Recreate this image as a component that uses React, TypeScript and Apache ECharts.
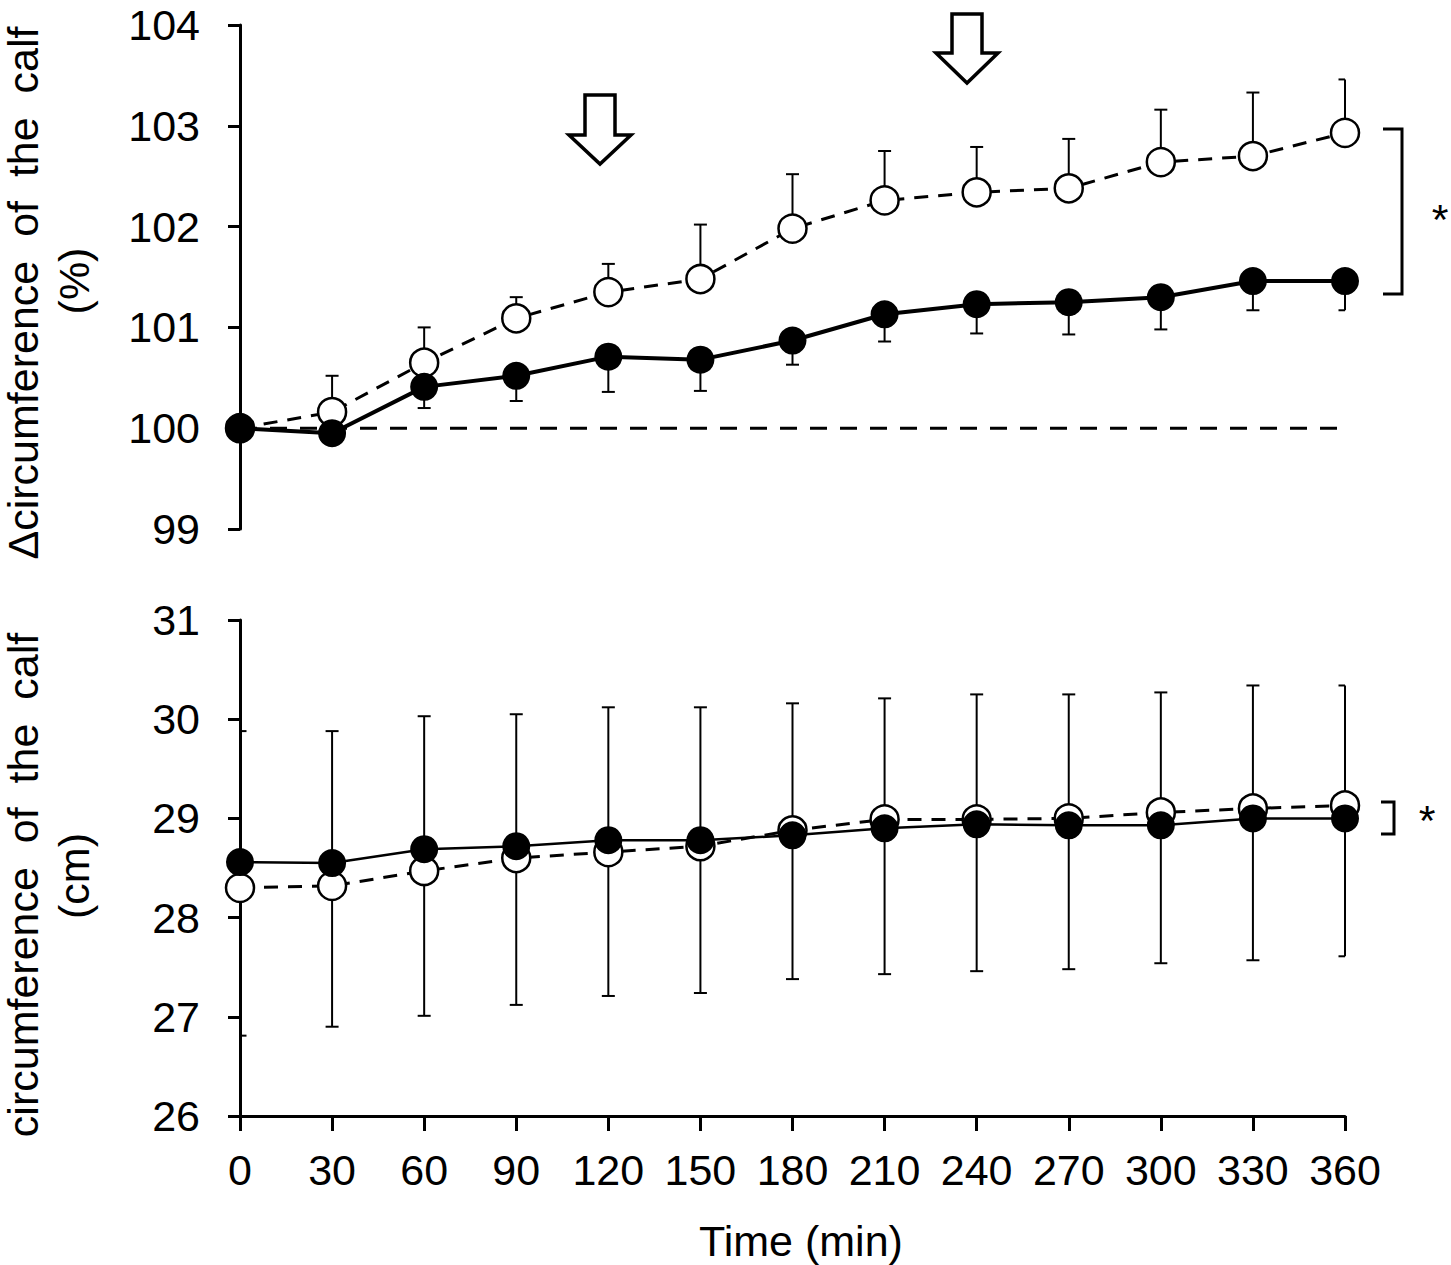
import React, { useEffect, useRef } from "react";
import * as echarts from "echarts";

const timePoints = [0, 30, 60, 90, 120, 150, 180, 210, 240, 270, 300, 330, 360];
const xTickLabels = ["0", "30", "60", "90", "120", "150", "180", "210", "240", "270", "300", "330", "360"];

// Top panel: Δcircumference of the calf (%)
const topOpen = [100, 100.16, 100.65, 101.09, 101.35, 101.48, 101.98, 102.26, 102.34, 102.38, 102.64, 102.7, 102.93];
const topOpenUpper = [100, 100.52, 101.0, 101.3, 101.63, 102.02, 102.52, 102.75, 102.79, 102.87, 103.16, 103.33, 103.46];
const topFilled = [100, 99.95, 100.41, 100.52, 100.71, 100.68, 100.87, 101.13, 101.23, 101.25, 101.3, 101.46, 101.46];
const topFilledLower = [100, 99.95, 100.2, 100.27, 100.36, 100.37, 100.63, 100.86, 100.94, 100.93, 100.98, 101.17, 101.17];
const baselineTop = [[0, 100], [367, 100]];

// Bottom panel: circumference of the calf (cm)
const bottomFilled = [28.56, 28.55, 28.69, 28.72, 28.78, 28.78, 28.83, 28.9, 28.94, 28.93, 28.93, 29.0, 29.0];
const bottomOpen = [28.3, 28.32, 28.47, 28.6, 28.66, 28.72, 28.88, 28.99, 28.99, 29.0, 29.06, 29.1, 29.13];
const bottomUpper = [29.88, 29.88, 30.03, 30.05, 30.12, 30.12, 30.16, 30.21, 30.25, 30.25, 30.27, 30.34, 30.34];
const bottomLower = [26.81, 26.9, 27.01, 27.12, 27.21, 27.24, 27.38, 27.43, 27.46, 27.48, 27.54, 27.57, 27.61];

const FONT = "'Liberation Sans', Arial, Helvetica, sans-serif";

export default function App() {
  const ref = useRef<HTMLDivElement>(null);

  useEffect(() => {
    document.body.style.margin = "0";
    document.body.style.overflow = "hidden";
    const chart = echarts.init(ref.current as HTMLDivElement, null, { renderer: "svg" });
    const lastIdx = timePoints.length - 1;
    const pair = (ys: number[]) => timePoints.map((t, i) => [t, ys[i]]);
    const triple = (a: number[], b: number[]) => timePoints.map((t, i) => [t, a[i], b[i]]);

    const errRender = (bothCaps: boolean, half: number) => (params: any, api: any) => {
      const x = api.value(0);
      const a = api.value(1);
      const b = api.value(2);
      if (a === b) return { type: "group", children: [] };
      const p1 = api.coord([x, a]);
      const p2 = api.coord([x, b]);
      const idx = params.dataIndex;
      const st = { stroke: "#000", lineWidth: 2 };
      const children: any[] = [
        { type: "line", shape: { x1: p1[0], y1: p1[1], x2: p2[0], y2: p2[1] }, style: st },
      ];
      const ends = bothCaps ? [p1, p2] : [p2];
      for (const p of ends) {
        const l = idx === 0 ? p[0] : p[0] - half;
        const r = idx === lastIdx ? p[0] : p[0] + half;
        children.push({ type: "line", shape: { x1: l, y1: p[1], x2: r, y2: p[1] }, style: st });
      }
      return { type: "group", children };
    };

    const axisLabelStyle = { color: "#000", fontSize: 43, fontFamily: FONT, lineHeight: 36 };

    const arrow = (cx: number, top: number, base: number, tip: number) => ({
      type: "polygon",
      shape: {
        points: [
          [cx - 15, top],
          [cx + 15, top],
          [cx + 15, base],
          [cx + 31, base],
          [cx, tip],
          [cx - 31, base],
          [cx - 15, base],
        ],
      },
      style: { fill: "#fff", stroke: "#000", lineWidth: 3.5 },
      z: 10,
    });

    const textEl = (text: string, x: number, y: number, rotated: boolean) => ({
      type: "text",
      x,
      y,
      rotation: rotated ? Math.PI / 2 : 0,
      style: {
        text,
        fontSize: 43,
        lineHeight: 40,
        fontFamily: FONT,
        fill: "#000",
        textAlign: "center",
        textVerticalAlign: "middle",
      },
    });

    const option: any = {
      animation: false,
      backgroundColor: "#fff",
      grid: [
        { left: 240, top: 25, width: 1105, height: 504 },
        { left: 240, top: 620, width: 1105, height: 496 },
      ],
      xAxis: [
        { type: "value", gridIndex: 0, min: 0, max: 360, interval: 30, show: false },
        {
          type: "value",
          gridIndex: 1,
          min: 0,
          max: 360,
          interval: 30,
          splitLine: { show: false },
          axisLine: { lineStyle: { color: "#000", width: 3 } },
          axisTick: { length: 15, lineStyle: { color: "#000", width: 3 } },
          axisLabel: {
            ...axisLabelStyle,
            margin: 36,
            formatter: (v: number) => xTickLabels[timePoints.indexOf(v)] ?? "",
          },
        },
      ],
      yAxis: [
        {
          type: "value",
          gridIndex: 0,
          min: 99,
          max: 104,
          interval: 1,
          splitLine: { show: false },
          axisLine: { show: true, lineStyle: { color: "#000", width: 3 } },
          axisTick: { show: true, length: 12, lineStyle: { color: "#000", width: 3 } },
          axisLabel: { ...axisLabelStyle, margin: 40 },
        },
        {
          type: "value",
          gridIndex: 1,
          min: 26,
          max: 31,
          interval: 1,
          splitLine: { show: false },
          axisLine: { show: true, lineStyle: { color: "#000", width: 3 } },
          axisTick: { show: true, length: 12, lineStyle: { color: "#000", width: 3 } },
          axisLabel: { ...axisLabelStyle, margin: 40 },
        },
      ],
      series: [
        // top panel
        {
          type: "custom",
          xAxisIndex: 0,
          yAxisIndex: 0,
          renderItem: errRender(false, 6.5),
          data: triple(topOpen, topOpenUpper),
          z: 1,
        },
        {
          type: "custom",
          xAxisIndex: 0,
          yAxisIndex: 0,
          renderItem: errRender(false, 6.5),
          data: triple(topFilled, topFilledLower),
          z: 1,
        },
        {
          type: "line",
          xAxisIndex: 0,
          yAxisIndex: 0,
          data: baselineTop,
          symbol: "none",
          clip: false,
          lineStyle: { color: "#000", width: 3, type: [17, 13] },
          z: 1,
        },
        {
          type: "line",
          xAxisIndex: 0,
          yAxisIndex: 0,
          data: pair(topOpen),
          symbol: "circle",
          symbolSize: 28,
          lineStyle: { color: "#000", width: 3, type: [14, 10] },
          itemStyle: { color: "#fff", borderColor: "#000", borderWidth: 2.5 },
          z: 3,
        },
        {
          type: "line",
          xAxisIndex: 0,
          yAxisIndex: 0,
          data: pair(topFilled),
          symbol: "circle",
          symbolSize: 28,
          lineStyle: { color: "#000", width: 4 },
          itemStyle: { color: "#000", borderColor: "#000", borderWidth: 0 },
          z: 4,
        },
        // bottom panel
        {
          type: "custom",
          xAxisIndex: 1,
          yAxisIndex: 1,
          renderItem: errRender(true, 6.5),
          data: triple(bottomLower, bottomUpper),
          z: 1,
        },
        {
          type: "line",
          xAxisIndex: 1,
          yAxisIndex: 1,
          data: pair(bottomOpen),
          symbol: "circle",
          symbolSize: 28,
          lineStyle: { color: "#000", width: 3, type: [14, 10] },
          itemStyle: { color: "#fff", borderColor: "#000", borderWidth: 2.5 },
          z: 3,
        },
        {
          type: "line",
          xAxisIndex: 1,
          yAxisIndex: 1,
          data: pair(bottomFilled),
          symbol: "circle",
          symbolSize: 28,
          lineStyle: { color: "#000", width: 2.5 },
          itemStyle: { color: "#000", borderColor: "#000", borderWidth: 0 },
          z: 4,
        },
      ],
      graphic: [
        arrow(600, 95, 135, 164),
        arrow(967, 14, 53, 83),
        {
          type: "polyline",
          shape: { points: [[1383, 129], [1402, 129], [1402, 294], [1383, 294]] },
          style: { stroke: "#000", lineWidth: 3, fill: null },
        },
        {
          type: "polyline",
          shape: { points: [[1381, 802], [1394, 802], [1394, 834], [1381, 834]] },
          style: { stroke: "#000", lineWidth: 3, fill: null },
        },
        textEl("*", 1440, 219, false),
        textEl("*", 1427, 820, false),
        textEl("Δcircumference  of  the  calf", 23, 293, true),
        textEl("(%)", 74, 281, true),
        textEl("circumference  of  the  calf", 23, 885, true),
        textEl("(cm)", 74, 876, true),
        textEl("Time (min)", 801, 1241, false),
      ],
    };

    chart.setOption(option);
    return () => chart.dispose();
  }, []);

  return <div ref={ref} style={{ width: 1451, height: 1265 }} />;
}
